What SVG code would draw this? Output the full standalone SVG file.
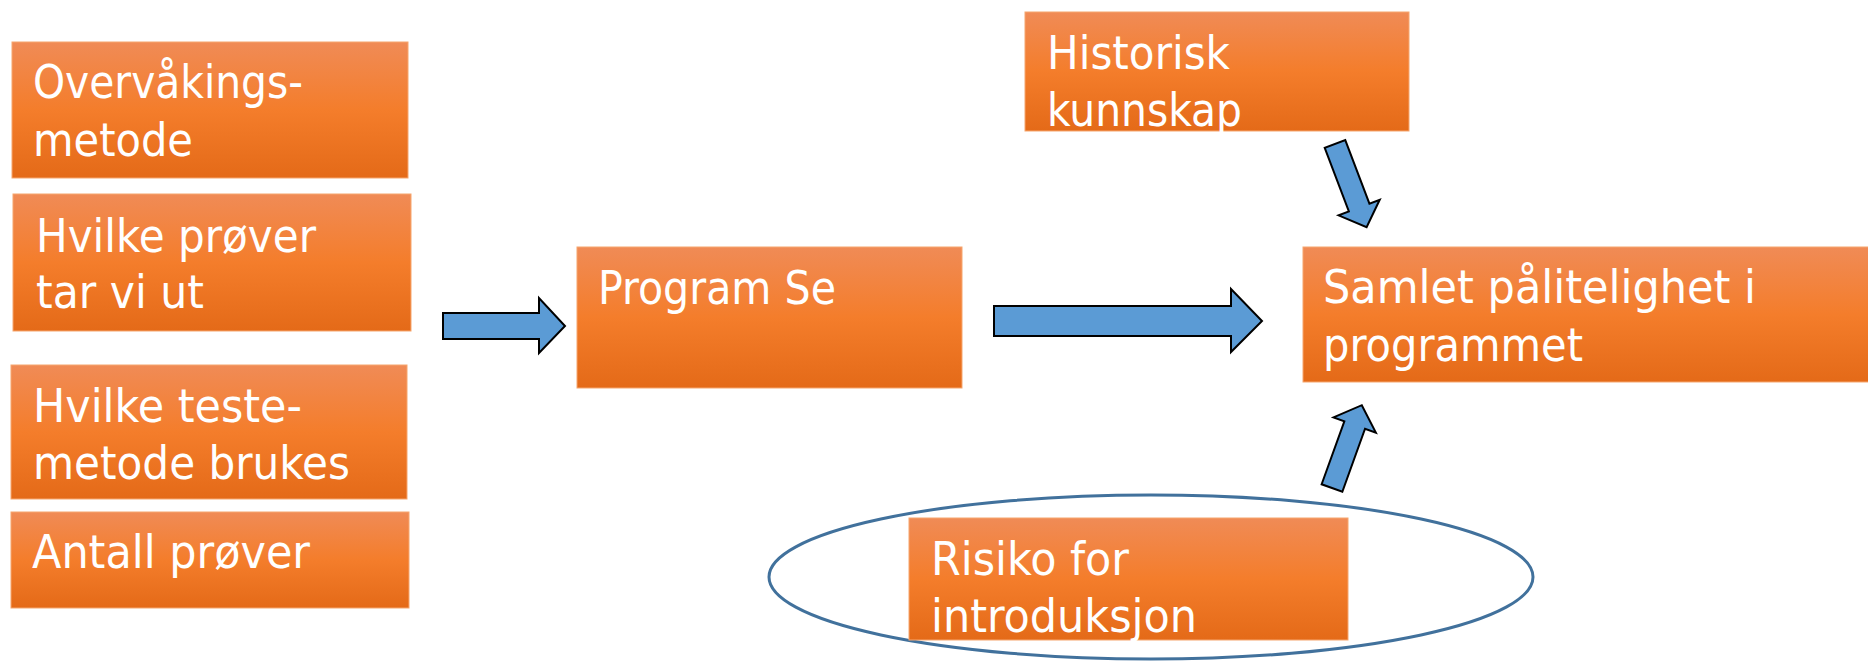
<svg xmlns="http://www.w3.org/2000/svg" width="1868" height="661" viewBox="0 0 1868 661">
<defs>
<linearGradient id="og" x1="0" y1="0" x2="0" y2="1">
<stop offset="0" stop-color="#F08B56"/>
<stop offset="0.5" stop-color="#F47D2B"/>
<stop offset="1" stop-color="#E46A18"/>
</linearGradient>
<style>
.box{fill:url(#og);stroke:#F6A66E;stroke-width:1}
.t{font-family:"DejaVu Sans Condensed","DejaVu Sans",sans-serif;font-stretch:condensed;font-size:46px;fill:#FFFFFF}
.arr{fill:#5B9BD5;stroke:#000000;stroke-width:2;stroke-linejoin:miter}
</style>
</defs>
<rect width="1868" height="661" fill="#FFFFFF"/>
<g id="ellipse-risk">
<ellipse cx="1151" cy="577" rx="382" ry="82" fill="none" stroke="#41719C" stroke-width="3"/>
</g>
<g id="node-overvakingsmetode">
<rect class="box" x="12" y="42" width="396" height="136"/>
<text class="t" x="33" y="98" textLength="270" lengthAdjust="spacingAndGlyphs">Overvåkings-</text>
<text class="t" x="33" y="156" textLength="160" lengthAdjust="spacingAndGlyphs">metode</text>
</g>
<g id="node-hvilke-prover">
<rect class="box" x="13" y="194" width="398" height="137"/>
<text class="t" x="36" y="252" textLength="280" lengthAdjust="spacingAndGlyphs">Hvilke prøver</text>
<text class="t" x="36" y="308" textLength="168" lengthAdjust="spacingAndGlyphs">tar vi ut</text>
</g>
<g id="node-testemetode">
<rect class="box" x="11" y="365" width="396" height="134"/>
<text class="t" x="33" y="422" textLength="269" lengthAdjust="spacingAndGlyphs">Hvilke teste-</text>
<text class="t" x="33" y="479" textLength="317" lengthAdjust="spacingAndGlyphs">metode brukes</text>
</g>
<g id="node-antall">
<rect class="box" x="11" y="512" width="398" height="96"/>
<text class="t" x="32" y="568" textLength="278" lengthAdjust="spacingAndGlyphs">Antall prøver</text>
</g>
<g id="node-program">
<rect class="box" x="577" y="247" width="385" height="141"/>
<text class="t" x="598" y="304" textLength="238" lengthAdjust="spacingAndGlyphs">Program Se</text>
</g>
<g id="node-historisk">
<rect class="box" x="1025" y="12" width="384" height="119"/>
<text class="t" x="1047" y="69" textLength="183" lengthAdjust="spacingAndGlyphs">Historisk</text>
<text class="t" x="1047" y="126" textLength="195" lengthAdjust="spacingAndGlyphs">kunnskap</text>
</g>
<g id="node-samlet">
<rect class="box" x="1303" y="247" width="570" height="135"/>
<text class="t" x="1323" y="303" textLength="433" lengthAdjust="spacingAndGlyphs">Samlet pålitelighet i</text>
<text class="t" x="1323" y="361" textLength="260" lengthAdjust="spacingAndGlyphs">programmet</text>
</g>
<g id="node-risiko">
<rect class="box" x="909" y="518" width="439" height="122"/>
<text class="t" x="931" y="575" textLength="198" lengthAdjust="spacingAndGlyphs">Risiko for</text>
<text class="t" x="931" y="632" textLength="266" lengthAdjust="spacingAndGlyphs">introduksjon</text>
</g>
<g id="connectors">
<polygon class="arr" points="443,313 539,313 539,298 565,326 539,353 539,339 443,339"/>
<polygon class="arr" points="994,306 1231,306 1231,289 1262,321 1231,352 1231,336 994,336"/>
<polygon class="arr" transform="translate(1335,144) rotate(69.2)" points="0,-11 68,-11 68,-22 89,0 68,22 68,11 0,11"/>
<polygon class="arr" transform="translate(1332,488) rotate(-70.2)" points="0,-11 67,-11 67,-22.5 88,0 67,22.5 67,11 0,11"/>
</g>
</svg>
